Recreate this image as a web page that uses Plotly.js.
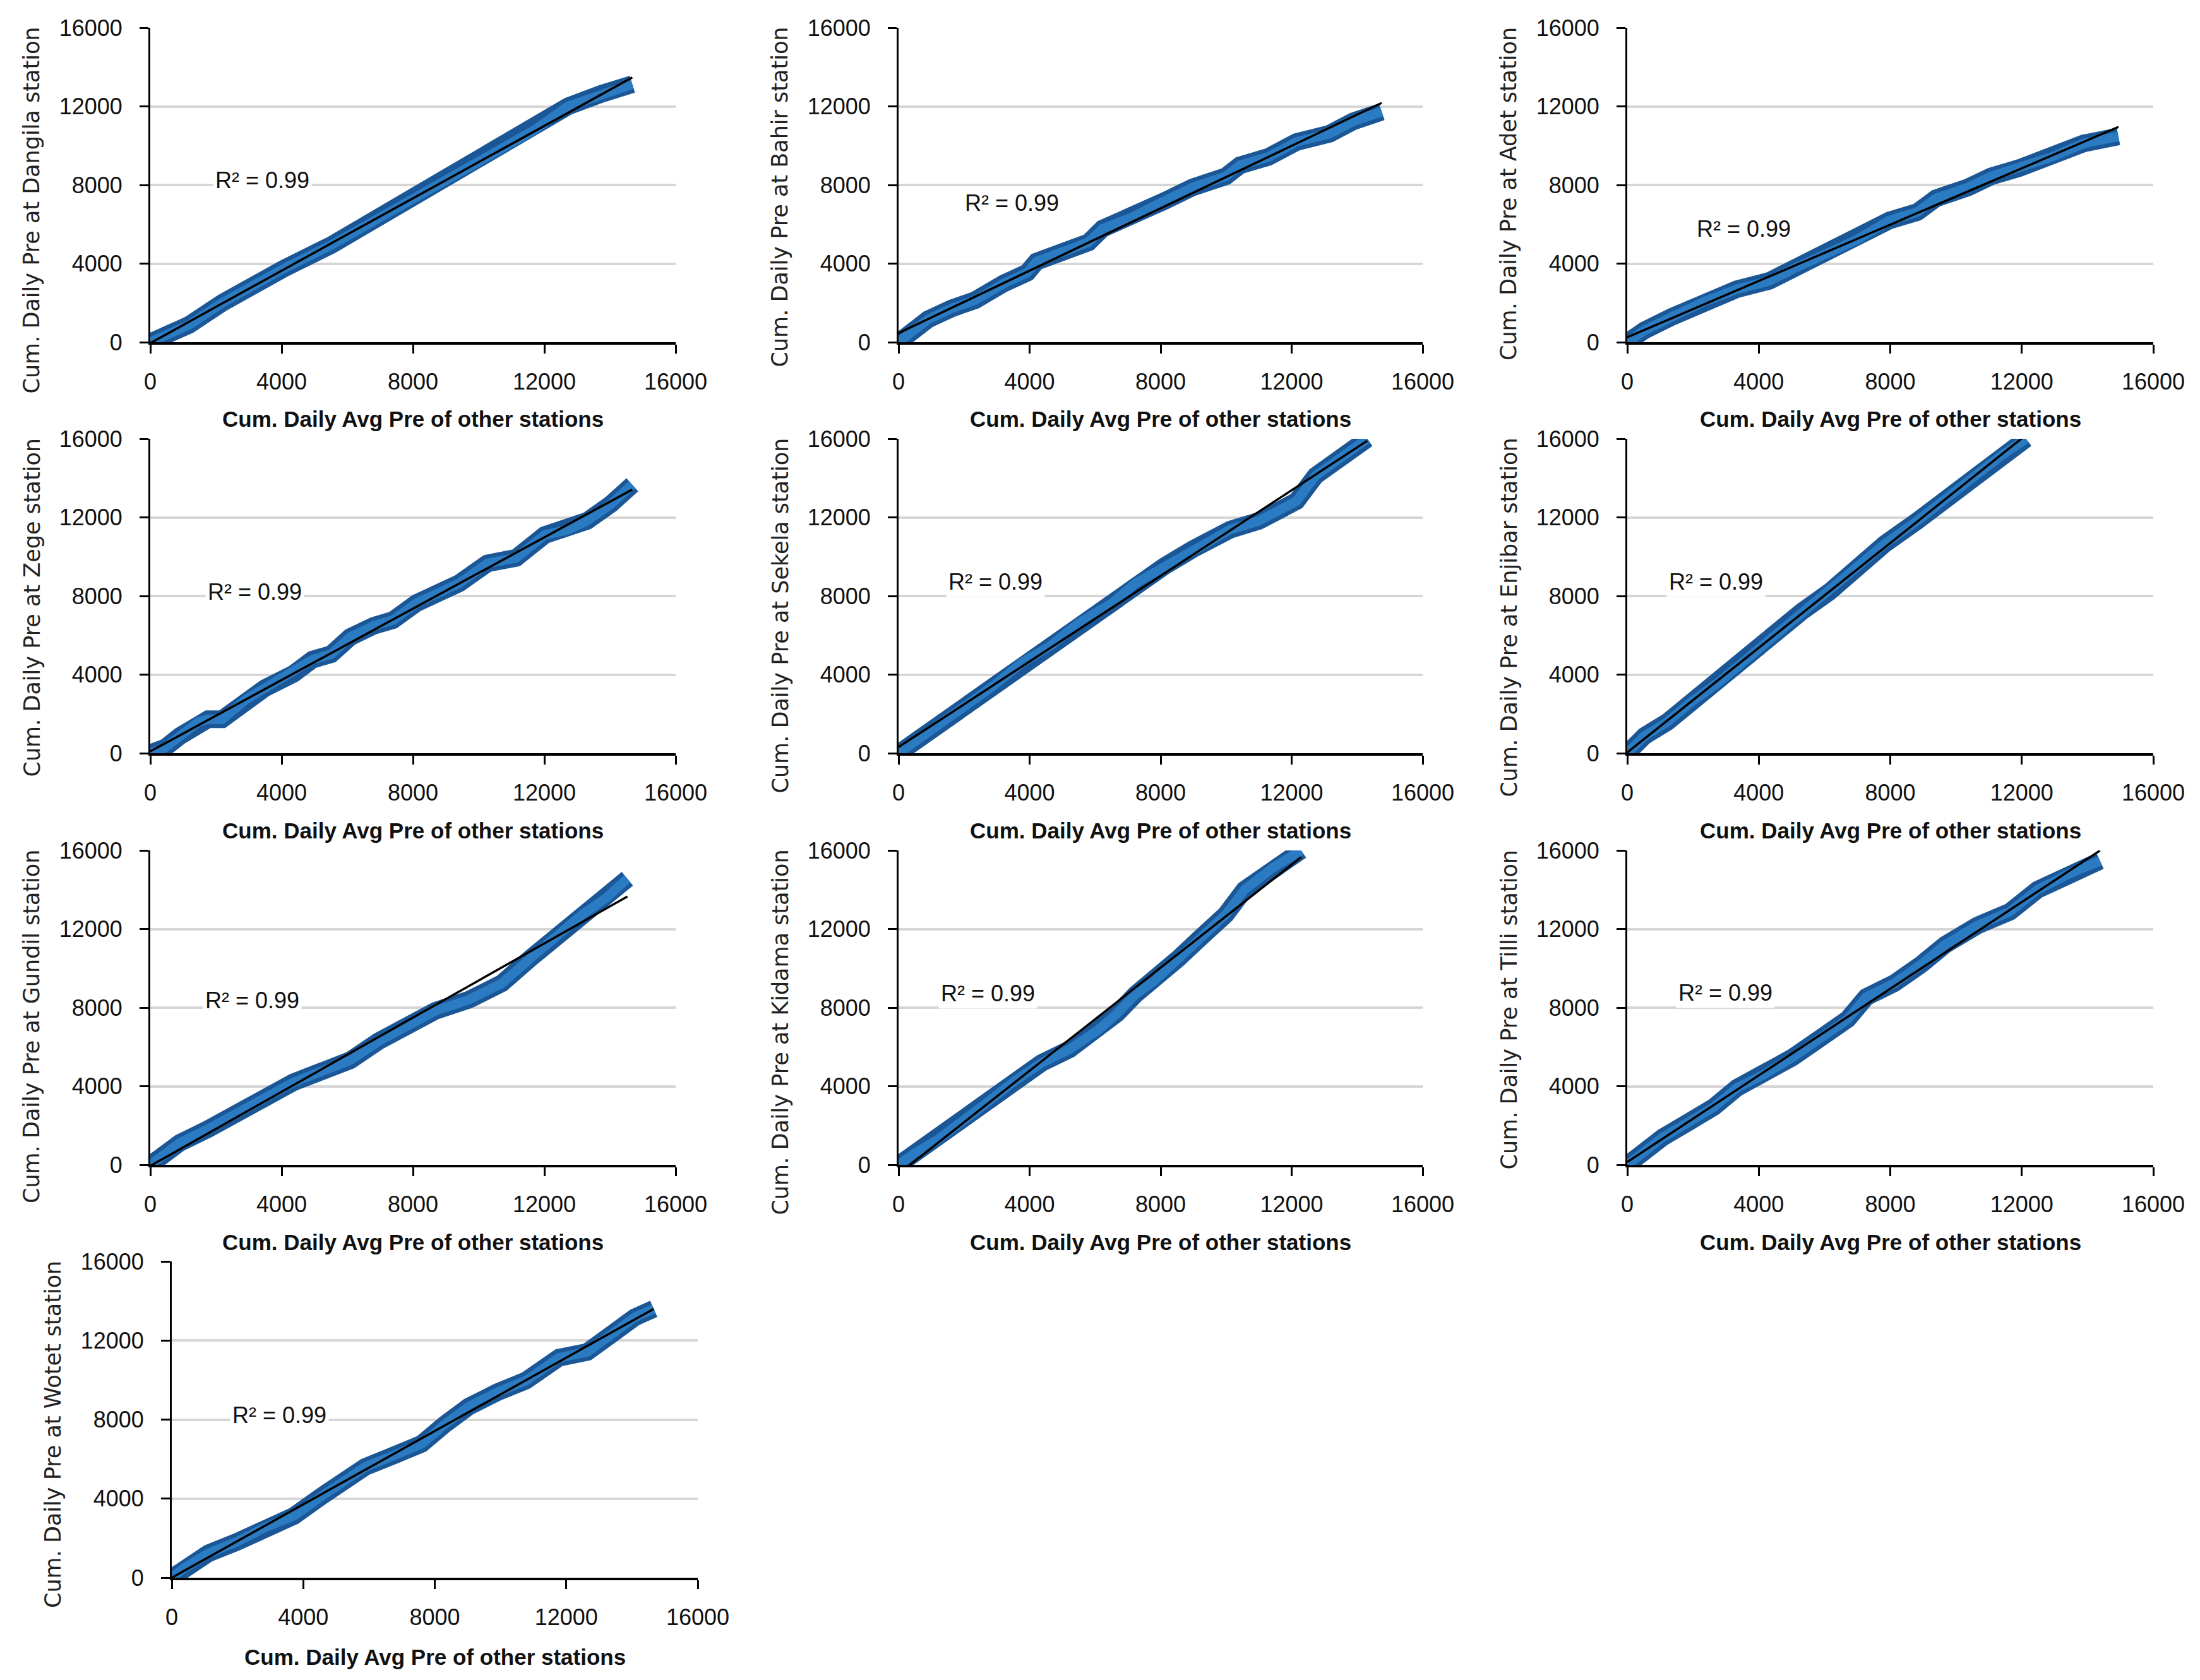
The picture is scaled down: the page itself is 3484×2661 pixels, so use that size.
<!DOCTYPE html>
<html>
<head>
<meta charset="utf-8">
<script src="https://cdn.plot.ly/plotly-3.0.1.min.js"></script>
<style>
html,body{margin:0;padding:0;background:#fff;}
#chart{width:3484px;height:2661px;}
</style>
</head>
<body>
<div id="chart"></div>
<script>
// ---------------- DATA ----------------
const stations = ["Dangila", "Bahir", "Adet", "Zege", "Sekela", "Enjibar", "Gundil", "Kidama", "Tilli", "Wotet"];
const r2Values = [0.99, 0.99, 0.99, 0.99, 0.99, 0.99, 0.99, 0.99, 0.99, 0.99];
const axisTicks = [0, 4000, 8000, 12000, 16000];
const axisTickText = ["0", "4000", "8000", "12000", "16000"];
const xTitleText = "Cum. Daily Avg Pre of other stations";

const dangilaX = [0, 460, 1180, 2190, 3200, 4070, 5510, 6960, 8400, 9260, 10560, 11720, 12730, 13740, 14680];
const dangilaY = [0, 390, 880, 2000, 2980, 3750, 4940, 6340, 7600, 8440, 9770, 10820, 12010, 12640, 13130];

const bahirX = [0, 460, 900, 1620, 2340, 3200, 3930, 4210, 5220, 5800, 6230, 7100, 8110, 8980, 9990, 10420, 11280, 12150, 13160, 13880, 14750];
const bahirY = [0, 600, 1160, 1720, 2140, 2980, 3540, 4100, 4730, 5080, 5780, 6340, 7180, 7880, 8440, 9000, 9420, 10190, 10610, 11240, 11730];

const adetX = [0, 520, 1370, 2350, 3340, 4320, 5160, 6150, 6990, 7980, 8820, 9390, 10370, 11070, 11920, 12900, 13890, 14940];
const adetY = [0, 600, 1300, 2070, 2700, 3120, 3820, 4520, 5220, 6200, 6620, 7320, 7880, 8440, 8860, 9420, 10120, 10470];

const zegeX = [0, 460, 900, 1470, 1760, 2190, 2920, 3490, 4360, 4940, 5510, 6090, 6810, 7390, 8110, 8830, 9410, 10270, 11140, 12010, 12730, 13300, 14030, 14680];
const zegeY = [0, 290, 870, 1590, 1730, 1730, 2740, 3310, 4040, 4760, 5040, 5910, 6490, 6770, 7640, 8210, 8650, 9660, 9940, 11100, 11380, 11820, 12680, 13660];

const sekelaX = [0, 610, 1330, 2050, 2920, 3780, 4650, 5510, 6520, 7240, 8110, 8980, 10130, 11000, 12150, 12730, 13590, 14310];
const sekelaY = [0, 720, 1590, 2450, 3460, 4610, 5480, 6630, 7640, 8650, 9510, 10380, 11380, 11820, 12830, 14120, 15130, 16000];

const enjibarX = [0, 520, 1220, 1930, 2770, 3620, 4460, 5310, 6150, 6990, 7840, 8820, 9810, 10650, 11360, 12130];
const enjibarY = [0, 870, 1590, 2590, 3600, 4760, 5910, 7210, 8210, 9510, 10660, 11820, 13110, 14270, 15130, 16000];

const gundilX = [0, 320, 900, 1760, 2630, 3490, 4360, 5220, 6090, 6960, 7820, 8690, 9700, 10710, 11570, 12440, 13160, 13880, 14530];
const gundilY = [0, 420, 1120, 1820, 2660, 3360, 4200, 4760, 5320, 6300, 7000, 7840, 8400, 9240, 10500, 11760, 12740, 13580, 14560];

const kidamaX = [0, 460, 1180, 1900, 2630, 3490, 4360, 5220, 6090, 6670, 7240, 7820, 8540, 9260, 9990, 10560, 11430, 12290];
const kidamaY = [0, 560, 1260, 2100, 3080, 4200, 5180, 5880, 6860, 7700, 8680, 9380, 10500, 11620, 12740, 14000, 15120, 16000];

const tilliX = [0, 520, 1080, 1790, 2630, 3340, 4180, 5020, 5870, 6710, 7270, 8120, 8960, 9670, 10650, 11640, 12480, 13470, 14380];
const tilliY = [0, 700, 1400, 2100, 2940, 3920, 4620, 5460, 6440, 7420, 8540, 9240, 10220, 11200, 12180, 12880, 14000, 14840, 15470];

const wotetX = [0, 400, 1120, 1990, 2850, 3720, 4580, 5440, 5880, 6740, 7600, 8320, 9040, 9910, 10770, 11780, 12640, 13360, 14080, 14660];
const wotetY = [0, 510, 1240, 1820, 2550, 3130, 4150, 5020, 5600, 6180, 6770, 7780, 8660, 9390, 9970, 11130, 11420, 12290, 13170, 13600];

const seriesX = [dangilaX, bahirX, adetX, zegeX, sekelaX, enjibarX, gundilX, kidamaX, tilliX, wotetX];
const seriesY = [dangilaY, bahirY, adetY, zegeY, sekelaY, enjibarY, gundilY, kidamaY, tilliY, wotetY];

// ---------------- LAYOUT CONFIG ----------------
const W = 3484, H = 2661;
// plot boxes in pixels: [left, right, top, bottom]
const boxes = [
  [238, 1070, 44, 542], [1423, 2253, 44, 542], [2577, 3410, 44, 542],
  [238, 1070, 695, 1193], [1423, 2253, 695, 1193], [2577, 3410, 695, 1193],
  [238, 1070, 1347, 1845], [1423, 2253, 1347, 1845], [2577, 3410, 1347, 1845],
  [272, 1105, 1998, 2499]
];
// R² label positions (data coordinates)
const r2Pos = [
  [3420, 8230], [3460, 7080], [3550, 5770], [3180, 8210], [2960, 8720],
  [2700, 8720], [3100, 8370], [2730, 8720], [2980, 8750], [3280, 8220]
];

const tickFont = {family: "Liberation Sans, Arial, sans-serif", size: 36, color: "#111"};

const traces = [];
const layout = {
  width: W, height: H,
  margin: {l: 0, r: 0, t: 0, b: 0},
  paper_bgcolor: "#ffffff",
  plot_bgcolor: "#ffffff",
  showlegend: false,
  annotations: []
};

function ols(xs, ys) {
  const n = xs.length;
  let sx = 0, sy = 0, sxx = 0, sxy = 0;
  for (let i = 0; i < n; i++) { sx += xs[i]; sy += ys[i]; sxx += xs[i]*xs[i]; sxy += xs[i]*ys[i]; }
  const b = (n*sxy - sx*sy) / (n*sxx - sx*sx);
  const a = (sy - b*sx) / n;
  return [a, b];
}

stations.forEach((st, i) => {
  const n = i === 0 ? "" : String(i + 1);
  const xa = "x" + n, ya = "y" + n;
  const xs = seriesX[i], ys = seriesY[i];
  const [l, r, t, b] = boxes[i];

  traces.push({x: xs, y: ys, xaxis: xa, yaxis: ya, type: "scatter", mode: "lines",
    line: {color: "#1b5796", width: 28}, hoverinfo: "skip"});
  traces.push({x: xs, y: ys, xaxis: xa, yaxis: ya, type: "scatter", mode: "lines",
    line: {color: "#2b7bc3", width: 15}, hoverinfo: "skip"});
  const [a, s] = ols(xs, ys);
  const x0 = Math.min(...xs), x1 = Math.max(...xs);
  traces.push({x: [x0, x1], y: [a + s*x0, a + s*x1], xaxis: xa, yaxis: ya, type: "scatter", mode: "lines",
    line: {color: "#000000", width: 3.5}, hoverinfo: "skip"});

  const xKey = "xaxis" + n, yKey = "yaxis" + n;
  layout[xKey] = {
    domain: [l / W, r / W], anchor: ya, range: [0, 16000],
    tickmode: "array", tickvals: axisTicks, ticktext: axisTickText,
    showgrid: false, zeroline: false, showline: true, linecolor: "#000", linewidth: 4,
    ticks: "outside", ticklen: 14, tickwidth: 3, tickcolor: "#000",
    tickfont: tickFont, ticklabelstandoff: 14, fixedrange: true
  };
  layout[yKey] = {
    domain: [1 - b / H, 1 - t / H], anchor: xa, range: [0, 16000],
    tickmode: "array", tickvals: axisTicks, ticktext: axisTickText,
    showgrid: true, gridcolor: "#d6d6d6", gridwidth: 4, zeroline: false,
    showline: true, linecolor: "#000", linewidth: 3,
    ticks: "outside", ticklen: 14, tickwidth: 3, tickcolor: "#000",
    tickfont: tickFont, ticklabelstandoff: 20, fixedrange: true
  };

  // x-axis title
  layout.annotations.push({
    xref: "paper", yref: "paper", x: (l + r) / 2 / W, y: 1 - (b + (i === 9 ? 125 : 122)) / H,
    xanchor: "center", yanchor: "middle", showarrow: false, text: xTitleText,
    font: {family: "Liberation Sans, Arial, sans-serif", size: 35, color: "#111", weight: "bold"}
  });
  // y-axis title
  layout.annotations.push({
    xref: "paper", yref: "paper", x: (l - 188) / W, y: 1 - (t - 3) / H,
    xanchor: "center", yanchor: "top", showarrow: false, textangle: -90,
    text: "Cum. Daily Pre at " + st + " station",
    font: {family: "DejaVu Sans, sans-serif", size: 35, color: "#222"}
  });
  // R² label
  layout.annotations.push({
    xref: xa, yref: ya, x: r2Pos[i][0], y: r2Pos[i][1], xanchor: "center", yanchor: "middle",
    showarrow: false, text: "R² = " + r2Values[i].toFixed(2), bgcolor: "#ffffff", borderpad: 3,
    font: {family: "Liberation Sans, Arial, sans-serif", size: 36, color: "#111"}
  });
});

Plotly.newPlot("chart", traces, layout, {staticPlot: true, displayModeBar: false});
</script>
</body>
</html>
